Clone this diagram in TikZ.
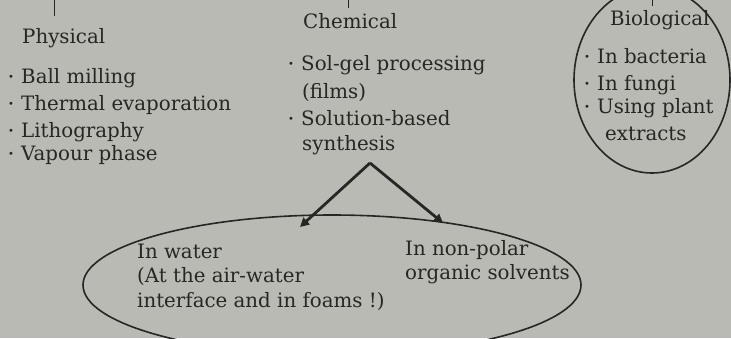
\documentclass[tikz,border=0pt]{standalone}
\usepackage{fontspec}
\setmainfont{DejaVu Serif}
\usetikzlibrary{arrows.meta}
\definecolor{bg}{RGB}{186,186,181}
\definecolor{ink}{RGB}{38,38,36}
\newcommand{\bul}{\makebox[13pt][l]{\raisebox{2.5pt}{\fontsize{10}{10}\selectfont •}}}
\tikzset{
  txt/.style={anchor=base west, inner sep=0pt, text=ink, font=\fontsize{19.8}{20}\selectfont},
  arr/.style={draw=ink, line width=2.8pt, -{Triangle[length=9pt,width=9pt]}},
  tick/.style={draw=ink, line width=1pt}
}
\begin{document}
\begin{tikzpicture}[x=1pt,y=-1pt]
\fill[bg] (0,0) rectangle (731,338);
\useasboundingbox (0,0) rectangle (731,338);
% ticks
\draw[tick] (54,0) -- (54,16);
\draw[tick] (348,0) -- (348,8);
\draw[tick] (652,-2) -- (652,6);
% Physical
\node[txt] (phys) at (22,43) {Physical};
\node[txt] (p1) at (8,83) {\bul Ball milling};
\node[txt] (p2) at (8,110) {\bul Thermal evaporation};
\node[txt] (p3) at (8,137) {\bul Lithography};
\node[txt] (p4) at (8,160) {\bul Vapour phase};
% Chemical
\node[txt] (chem) at (303,28) {Chemical};
\node[txt] (c1) at (288,70) {\bul Sol-gel processing};
\node[txt] (c1b) at (302,98) {(films)};
\node[txt] (c2) at (288,125) {\bul Solution-based};
\node[txt] (c2b) at (302,150) {synthesis};
% Biological
\draw[draw=ink, line width=1.6pt] (652,80) ellipse [x radius=78, y radius=93];
\node[txt] (bio) at (610,25) {Biological};
\node[txt] (b1) at (584,63) {\bul In bacteria};
\node[txt] (b2) at (584,90) {\bul In fungi};
\node[txt] (b3) at (584,113) {\bul Using plant};
\node[txt] (b3b) at (605,140) {extracts};
% bottom ellipse
\draw[draw=ink, line width=1.6pt] (332,285) ellipse [x radius=249, y radius=70];
\node[txt] (w1) at (137,258) {In water};
\node[txt] (w2) at (137,282) {(At the air-water};
\node[txt] (w3) at (137,307) {interface and in foams !)};
\node[txt] (n1) at (405,255) {In non-polar};
\node[txt] (n2) at (405,279) {organic solvents};
% arrows
\coordinate (apex) at (370,163);
\coordinate (tipL) at (300,227);
\coordinate (tipR) at (443,223);
\draw[arr] (apex) -- (tipL);
\draw[arr] (apex) -- (tipR);
\end{tikzpicture}
\end{document}
